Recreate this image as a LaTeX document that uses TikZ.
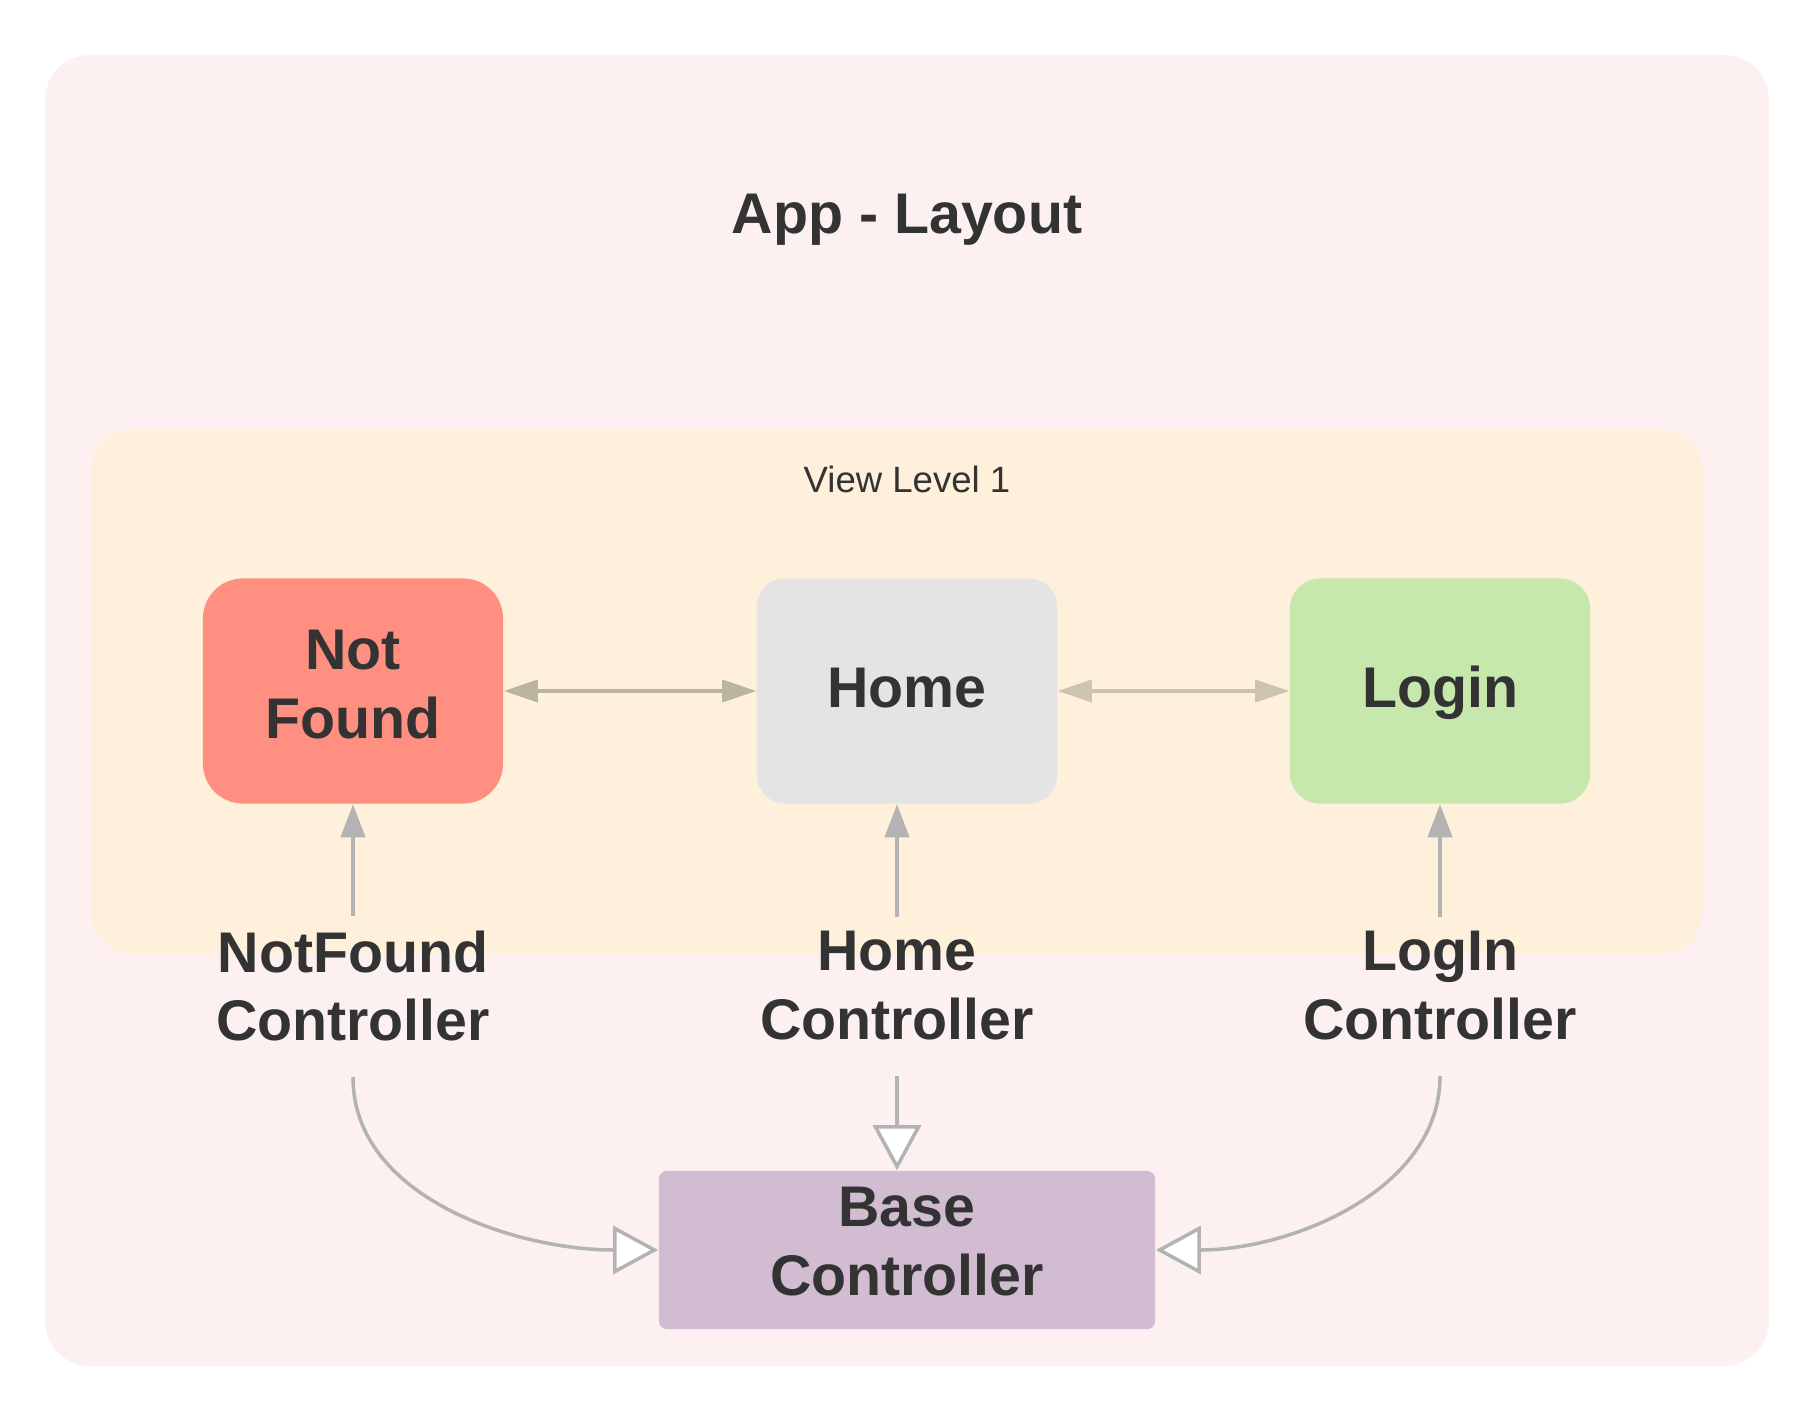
\documentclass[tikz,border=0pt]{standalone}
\usepackage{fontspec}
\setmainfont{Liberation Sans}
\usetikzlibrary{arrows.meta}

\definecolor{appbg}{HTML}{FCF1F0}
\definecolor{viewbg}{HTML}{FEF0DA}
\definecolor{nfred}{HTML}{FF8F80}
\definecolor{homegray}{HTML}{E4E4E4}
\definecolor{logingreen}{HTML}{C7E8AC}
\definecolor{basepurple}{HTML}{D2BCD2}
\definecolor{txt}{HTML}{333333}
\definecolor{linkgray}{HTML}{B3B3B3}
\definecolor{navtan}{HTML}{BAB5A0}
\definecolor{navtanlight}{HTML}{CBC5B0}

\begin{document}
\begin{tikzpicture}[x=0.01cm,y=-0.01cm]
		\tikzstyle{view}=[text=txt, font=\fontsize{16.3}{19.6}\selectfont\bfseries, align=center, minimum width=3cm, minimum height=2.25cm, inner sep=0pt, text height=0.42cm, text depth=0.09cm]
		\tikzstyle{ctrl}=[text=txt, font=\fontsize{16.3}{19.6}\selectfont\bfseries, align=center, inner sep=0.14cm]
		\tikzstyle{nav}=[draw, line width=1pt, {Triangle[length=0.34cm,width=0.22cm]}-{Triangle[length=0.34cm,width=0.22cm]}]
		\tikzstyle{uses}=[draw=linkgray, line width=1.1pt, -{Triangle[length=0.33cm,width=0.24cm]}]
		\tikzstyle{inherit}=[draw=linkgray, line width=1pt, shorten <=0.21cm, -{Triangle[length=0.45cm,width=0.48cm,fill=white]}]
		
		\useasboundingbox (0,0) rectangle (1806,1416);
		\fill[appbg, rounded corners=0.45cm] (45,55) rectangle (1769,1366);
		\fill[viewbg, rounded corners=0.4cm] (91,430) rectangle (1702,954);
		
		\node[text=txt, font=\fontsize{16.3}{19.6}\selectfont\bfseries] (app) at (907,220) {App - Layout};
		\node[text=txt, font=\fontsize{10.4}{12.5}\selectfont] (level) at (907,479) {View Level 1};
		
		\node[view, fill=nfred, rounded corners=0.4cm, text height=1.11cm, text depth=0.16cm] (notfound) at (353,691) {Not\\Found};
		\node[view, fill=homegray, rounded corners=0.28cm] (home) at (907,691) {Home};
		\node[view, fill=logingreen, rounded corners=0.3cm] (login) at (1440,691) {Login};
		\node[view, fill=basepurple, rounded corners=0.08cm, minimum width=4.96cm, minimum height=1.58cm, text height=1.11cm, text depth=0.2cm] (base) at (907,1250) {Base\\Controller};
		
		\node[ctrl] (nfctrl) at (353,986) {NotFound\\Controller};
		\node[ctrl] (homectrl) at (897,986) {Home\\Controller};
		\node[ctrl] (loginctrl) at (1440,986) {LogIn\\Controller};
		
		\draw[nav, navtan] (notfound) -- (home);
		\draw[nav, navtanlight] (home) -- (login);
		
		\draw[uses] (nfctrl) -- (notfound);
		\draw[uses] (homectrl) -- (homectrl |- home.south);
		\draw[uses] (loginctrl) -- (login);
		
		\draw[inherit] (homectrl) -- (homectrl |- base.north);
		\draw[inherit] (nfctrl.south) to[out=-90, in=180] (base.west);
		\draw[inherit] (loginctrl.south) to[out=-90, in=0] (base.east);
		\end{tikzpicture}
\end{document}
